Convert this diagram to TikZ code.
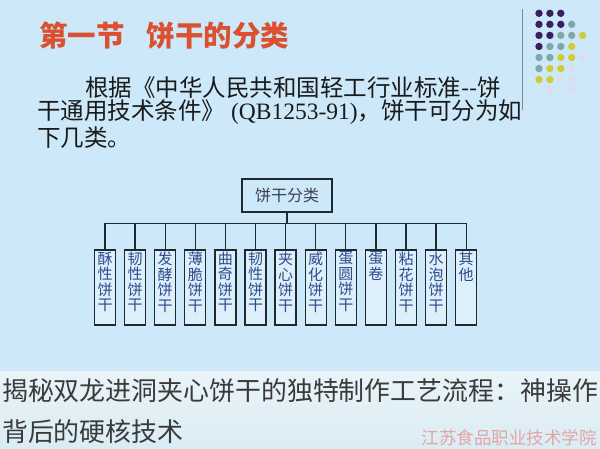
\documentclass[tikz,border=0pt]{standalone}
\usepackage{fontspec}
\setmainfont{Noto Sans CJK SC}
\newfontfamily\latinserif{Liberation Serif}
\usepackage{tikz}
\usepackage{xcolor}

\definecolor{bgblue}{HTML}{CDE8F8}
\definecolor{bandtop}{HTML}{E9F4F8}
\definecolor{bandbottom}{HTML}{DAECF4}
\definecolor{titlered}{HTML}{DA5030}
\definecolor{bodytext}{HTML}{1A1A1A}
\definecolor{divgray}{HTML}{7E8C96}
\definecolor{dotpurple}{HTML}{3A1F5E}
\definecolor{dotteal}{HTML}{7FA6AA}
\definecolor{dotyellow}{HTML}{CFCC38}
\definecolor{dotlight}{HTML}{DCDDEE}
\definecolor{boxline}{HTML}{1E2A30}
\definecolor{boxfill}{HTML}{DDEFFA}
\definecolor{roottext}{HTML}{3A4250}
\definecolor{cattext}{HTML}{2F4A8C}
\definecolor{captext}{HTML}{3A3A3A}
\definecolor{markred}{HTML}{E4A4A4}

\begin{document}
\begin{tikzpicture}[x=1bp,y=-1bp,
  rootbox/.style={draw=boxline,line width=1.4bp,minimum width=90bp,minimum height=33bp,
    inner sep=0,text=roottext,font=\fontsize{16bp}{18bp}\selectfont},
  catbox/.style={draw=boxline,line width=1.3bp,fill=boxfill,minimum width=21bp,
    minimum height=75bp,inner sep=0,text=cattext,font=\fontsize{15bp}{15.5bp}\selectfont},
  link/.style={draw=boxline,line width=1.3bp},
  bodyline/.style={anchor=west,inner sep=0,text=bodytext,font=\fontsize{23.5bp}{25bp}\selectfont},
  caption/.style={anchor=west,inner sep=0,text=captext,font=\fontsize{25.9bp}{28bp}\selectfont}]
% background
\useasboundingbox (0,0) rectangle (600,449);
\fill[bgblue] (0,0) rectangle (600,449);
\shade[top color=bandtop,bottom color=bandbottom] (0,371) rectangle (600,449);
% title and text
\node[anchor=west,inner sep=0,text=titlered,font=\fontsize{28.5bp}{30bp}\selectfont\bfseries]
  (title) at (39,35.5) {第一节\hspace{22bp}饼干的分类};
\node[bodyline] (line1) at (85,87.5) {根据《中华人民共和国轻工行业标准-{}-饼};
\node[bodyline] (line2) at (37,112.5) {干通用技术条件》{\latinserif\ (QB1253-91)}，饼干可分为如};
\node[bodyline] (line3) at (37,137.5) {下几类。};
% divider and dots
\draw[divgray,line width=1bp] (522.7,9) -- (522.7,110);
\foreach \c/\r in {0/0,1/0,2/0,0/1,1/1,2/1,0/2,1/2,0/3}
  \fill[dotpurple] ({539+10.9*\c},{13.3+11.05*\r}) circle[radius=3.7bp];
\foreach \c/\r in {3/1,2/2,3/2,1/3,2/3,0/4,1/4,0/5}
  \fill[dotteal] ({539+10.9*\c},{13.3+11.05*\r}) circle[radius=3.7bp];
\foreach \c/\r in {4/2,3/3,2/4,3/4,1/5,2/5,0/6,1/6}
  \fill[dotyellow] ({539+10.9*\c},{13.3+11.05*\r}) circle[radius=3.7bp];
\foreach \c/\r in {4/4,3/5,2/6,3/6,1/7,3/7}
  \fill[dotlight] ({539+10.9*\c},{13.3+11.05*\r}) circle[radius=3.7bp];
% chart
\node[rootbox] (root) at (287,195.5) {饼干分类};
\foreach \name [count=\i] in {{酥\\性\\饼\\干},{韧\\性\\饼\\干},{发\\酵\\饼\\干},
    {薄\\脆\\饼\\干},{曲\\奇\\饼\\干},{韧\\性\\饼\\干},{夹\\心\\饼\\干},
    {威\\化\\饼\\干},{蛋\\圆\\饼\\干},{蛋\\卷},{粘\\花\\饼\\干},
    {水\\泡\\饼\\干},{其\\他}}
  \node[catbox] (c\i) at ({105+30.1*(\i-1)},287.5)
    {\parbox[c][71bp][t]{18bp}{\centering\name}};
\coordinate (bus) at (287,223.3);
\draw[link] (root.south) -- (root.south |- bus);
\draw[link] (c1.north |- bus) -- (c13.north |- bus);
\foreach \i in {1,...,13}
  \draw[link] (c\i.north |- bus) -- (c\i.north);
% caption
\node[caption] (cap1) at (2,391) {揭秘双龙进洞夹心饼干的独特制作工艺流程：神操作};
\node[caption] (cap2) at (2,432) {背后的硬核技术};
\node[anchor=east,inner sep=0,text=markred,font=\fontsize{17.5bp}{18bp}\selectfont]
  (mark) at (597,438) {江苏食品职业技术学院};
\end{tikzpicture}
\end{document}
